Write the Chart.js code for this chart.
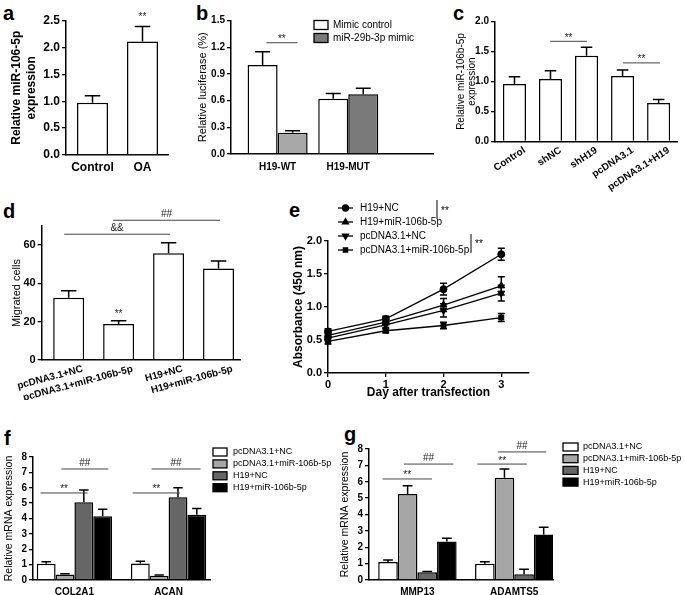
<!DOCTYPE html>
<html>
<head>
<meta charset="utf-8">
<script src="https://cdn.jsdelivr.net/npm/chart.js@4.4.1/dist/chart.umd.min.js"></script>
<style>
  body { margin: 0; background: #fff; width: 685px; height: 595px; position: relative; overflow: hidden; }
  canvas { position: absolute; }
  .lt { position: absolute; font: bold 20px 'Liberation Sans', Arial, sans-serif; line-height: 1; color: #000; }
</style>
</head>
<body>
<div class="lt" style="left:3px;top:3px">a</div>
<div class="lt" style="left:196px;top:3px">b</div>
<div class="lt" style="left:453px;top:3px">c</div>
<div class="lt" style="left:3px;top:201px">d</div>
<div class="lt" style="left:289px;top:200px">e</div>
<div class="lt" style="left:4px;top:428px">f</div>
<div class="lt" style="left:344px;top:424px">g</div>
<script>
// ---- data ----
var aCats = ['Control', 'OA'];
var aVals = [0.97, 2.11];
var aErr  = [0.13, 0.28];

var bCats      = ['H19-WT', 'H19-MUT'];
var bSeries    = ['Mimic control', 'miR-29b-3p mimic'];
var bCtrl      = [1.00, 0.62];
var bCtrlErr   = [0.15, 0.06];
var bMimic     = [0.24, 0.67];
var bMimicErr  = [0.02, 0.07];

var cCats = ['Control', 'shNC', 'shH19', 'pcDNA3.1', 'pcDNA3.1+H19'];
var cVals = [0.96, 1.04, 1.43, 1.09, 0.64];
var cErr  = [0.12, 0.14, 0.14, 0.10, 0.06];

var dCats = ['pcDNA3.1+NC', 'pcDNA3.1+miR-106b-5p', 'H19+NC', 'H19+miR-106b-5p'];
var dVals = [32.5, 18.8, 55.7, 47.8];
var dErr  = [3.7, 1.7, 5.5, 3.9];

var eDays     = [0, 1, 2, 3];
var eSeries   = ['H19+NC', 'H19+miR-106b-5p', 'pcDNA3.1+NC', 'pcDNA3.1+miR-106b-5p'];
var eH19NC    = [0.63, 0.82, 1.27, 1.80];
var eH19MiR   = [0.57, 0.77, 1.03, 1.32];
var ePcNC     = [0.53, 0.73, 0.95, 1.21];
var ePcMiR    = [0.48, 0.64, 0.72, 0.84];
var eH19NCErr  = [0.04, 0.04, 0.09, 0.09];
var eH19MiRErr = [0.04, 0.04, 0.10, 0.14];
var ePcNCErr   = [0.04, 0.04, 0.10, 0.12];
var ePcMiRErr  = [0.04, 0.03, 0.05, 0.06];

var fgSeries = ['pcDNA3.1+NC', 'pcDNA3.1+miR-106b-5p', 'H19+NC', 'H19+miR-106b-5p'];
var fCats     = ['COL2A1', 'ACAN'];
var fPcNC     = [1.05, 1.08];
var fPcMiR    = [0.35, 0.28];
var fH19NC    = [5.05, 5.38];
var fH19MiR   = [4.15, 4.25];
var fPcNCErr  = [0.13, 0.14];
var fPcMiRErr = [0.05, 0.04];
var fH19NCErr = [0.80, 0.62];
var fH19MiRErr= [0.45, 0.40];

var gCats     = ['MMP13', 'ADAMTS5'];
var gPcNC     = [1.10, 1.00];
var gPcMiR    = [5.25, 6.25];
var gH19NC    = [0.48, 0.35];
var gH19MiR   = [2.35, 2.78];
var gPcNCErr  = [0.12, 0.12];
var gPcMiRErr = [0.50, 0.53];
var gH19NCErr = [0.04, 0.30];
var gH19MiRErr= [0.20, 0.44];

// significance marks: [from, to, height, text]
var aSig = [[1, 1, 2.50, '**']];
var bSig = [[-0.16, 0.28, 1.25, '**']];
var cSig = [[0.99, 2.01, 1.67, '**'], [3.01, 4.04, 1.31, '**']];
var dSig = [[-0.09, 2.03, 65.7, '&&'], [0.89, 3.03, 73, '##'], [1, 1, 22.2, '**']];
var fSig = [[-0.36, 0.14, 5.66, '**'], [-0.14, 0.36, 7.22, '##'], [0.62, 1.12, 5.66, '**'], [0.82, 1.34, 7.22, '##']];
var gSig = [[-0.36, 0.15, 6.17, '**'], [-0.14, 0.37, 7.08, '##'], [0.62, 1.13, 7.08, '**'], [0.83, 1.33, 7.82, '##']];

// ---- helpers ----
var FONT = "'Liberation Sans', Arial, sans-serif";
Chart.defaults.font.family = FONT;
Chart.defaults.color = '#000';
Chart.defaults.animation = false;

function makeCanvas(box) {
  var c = document.createElement('canvas');
  c.width = box[2] - box[0];
  c.height = box[3] - box[1];
  c.style.left = box[0] + 'px';
  c.style.top = box[1] + 'px';
  c.style.width = c.width + 'px';
  c.style.height = c.height + 'px';
  document.body.appendChild(c);
  return c;
}

function pad(box, area) {
  return { left: 0, top: area[1] - box[1], right: box[2] - area[2], bottom: 0 };
}

function yAxis(box, area, o) {
  return {
    min: o.min, max: o.max,
    ticks: { stepSize: o.step, font: { size: o.size, weight: 'bold' }, padding: 2, color: '#000',
             callback: o.fmt || function (v) { return v; } },
    afterBuildTicks: o.keep ? function (s) { s.ticks = s.ticks.filter(function (t) { return o.keep(t.value); }); } : undefined,
    grid: { drawOnChartArea: false, drawTicks: true, tickLength: 4, color: '#000', lineWidth: 1.3 },
    border: { color: '#000', width: 1.5 },
    title: { display: true, text: o.title, color: '#000', font: o.tfont, padding: { top: o.tpad, bottom: 0 } },
    afterFit: function (s) { s.width = area[0] - box[0]; s.paddingTop = 0; s.paddingBottom = 0; }
  };
}

function xCat(box, area, cats, o) {
  return {
    type: 'linear', min: o.min, max: o.max, offset: false,
    afterBuildTicks: function (s) { s.ticks = cats.map(function (c, i) { return { value: i }; }); },
    ticks: { callback: function (v) { return cats[v]; }, font: { size: o.size, weight: 'bold' },
             minRotation: o.rot || 0, maxRotation: o.rot || 0, labelOffset: o.off || 0,
             padding: o.pad, autoSkip: false, color: '#000' },
    grid: { display: false, drawTicks: false, tickLength: 0, offset: false },
    border: { color: '#000', width: 1.5 },
    afterFit: function (s) { s.height = box[3] - area[3]; s.paddingLeft = 0; s.paddingRight = 0; }
  };
}

function pts(vals) { return vals.map(function (v, i) { return { x: i, y: v }; }); }

var errorBars = {
  id: 'errorBars',
  afterDatasetsDraw: function (chart) {
    var ctx = chart.ctx, ys = chart.scales.y, both = chart.config.type === 'line';
    chart.data.datasets.forEach(function (ds, i) {
      if (!ds.errors) return;
      var meta = chart.getDatasetMeta(i);
      meta.data.forEach(function (el, j) {
        var v = ds.data[j].y, e = ds.errors[j];
        var top = ys.getPixelForValue(v + e);
        var bot = both ? ys.getPixelForValue(v - e) : el.y;
        var hw = el.width ? el.width / 4 : 3.5;
        ctx.save();
        ctx.strokeStyle = '#000';
        ctx.lineWidth = 1.5;
        ctx.beginPath();
        ctx.moveTo(el.x, bot); ctx.lineTo(el.x, top);
        ctx.moveTo(el.x - hw, top); ctx.lineTo(el.x + hw, top);
        if (both) { ctx.moveTo(el.x - hw, bot); ctx.lineTo(el.x + hw, bot); }
        ctx.stroke();
        ctx.restore();
      });
    });
  }
};

function sigMarks(items) {
  return {
    id: 'sigMarks',
    afterDraw: function (chart) {
      var ctx = chart.ctx, xs = chart.scales.x, ys = chart.scales.y;
      items.forEach(function (s) {
        var x1 = xs.getPixelForValue(s[0]), x2 = xs.getPixelForValue(s[1]), y = ys.getPixelForValue(s[2]);
        ctx.save();
        if (s[0] !== s[1]) {
          ctx.strokeStyle = '#444';
          ctx.lineWidth = 1;
          ctx.beginPath(); ctx.moveTo(x1, y); ctx.lineTo(x2, y); ctx.stroke();
        }
        ctx.fillStyle = '#222';
        ctx.font = '10px ' + FONT;
        ctx.textAlign = 'center';
        ctx.textBaseline = 'alphabetic';
        ctx.fillText(s[3], (x1 + x2) / 2, y - (s[3] === '**' ? 0.5 : 3));
        ctx.restore();
      });
    }
  };
}

// legend with filled boxes; x,y are canvas coords of first box, rows go down
function boxLegend(names, colors, o) {
  return {
    id: 'boxLegend',
    afterDraw: function (chart) {
      var ctx = chart.ctx;
      ctx.save();
      ctx.font = o.size + 'px ' + FONT;
      ctx.textBaseline = 'middle';
      names.forEach(function (n, i) {
        var y = o.y + i * o.row;
        ctx.fillStyle = colors[i];
        ctx.fillRect(o.x, y - o.bh / 2, o.bw, o.bh);
        ctx.strokeStyle = '#000';
        ctx.lineWidth = 1.3;
        ctx.strokeRect(o.x, y - o.bh / 2, o.bw, o.bh);
        ctx.fillStyle = '#000';
        ctx.fillText(n, o.tx, y);
      });
      ctx.restore();
    }
  };
}

// ---- a ----
var aBox = [0, 0, 190, 195], aArea = [66, 20.5, 168, 155];
new Chart(makeCanvas(aBox), {
  type: 'bar',
  data: { datasets: [{ data: pts(aVals), errors: aErr, backgroundColor: '#fff', borderColor: '#000', borderWidth: 1.5,
                       categoryPercentage: 1, barPercentage: 0.62 }] },
  options: {
    responsive: false, layout: { padding: pad(aBox, aArea) },
    plugins: { legend: { display: false }, tooltip: { enabled: false } },
    scales: {
      x: xCat(aBox, aArea, aCats, { min: -0.53, max: 1.51, size: 12, pad: 5 }),
      y: yAxis(aBox, aArea, { min: 0, max: 2.5, step: 0.5, size: 12, fmt: function (v) { return v.toFixed(1); },
                              title: ['Relative miR-106-5p', 'expression'], tfont: { size: 12, weight: 'bold', lineHeight: 1.25 }, tpad: 9 })
    }
  },
  plugins: [errorBars, sigMarks(aSig)]
});

// ---- b ----
var bBox = [190, 0, 450, 195], bArea = [231, 20.5, 433, 154];
new Chart(makeCanvas(bBox), {
  type: 'bar',
  data: { datasets: [
    { label: bSeries[0], data: pts(bCtrl), errors: bCtrlErr, backgroundColor: '#fff', borderColor: '#000', borderWidth: 1.5 },
    { label: bSeries[1], data: pts(bMimic), errors: bMimicErr, backgroundColor: ['#a8a8a8', '#7a7a7a'], borderColor: '#000', borderWidth: 1.5 }
  ] },
  options: {
    responsive: false, layout: { padding: pad(bBox, bArea) },
    datasets: { bar: { categoryPercentage: 0.85, barPercentage: 1 } },
    plugins: { legend: { display: false }, tooltip: { enabled: false } },
    scales: {
      x: xCat(bBox, bArea, bCats, { min: -0.66, max: 2.2, size: 10, pad: 7 }),
      y: yAxis(bBox, bArea, { min: 0, max: 1.5, step: 0.3, size: 10, fmt: function (v) { return v.toFixed(1); },
                              title: 'Relative luciferase (%)', tfont: { size: 11, lineHeight: 1.25 }, tpad: 6 })
    }
  },
  plugins: [errorBars, sigMarks(bSig), boxLegend(bSeries, ['#fff', '#7a7a7a'], { x: 124, y: 25, row: 13, bw: 14, bh: 9, tx: 143, size: 10 })]
});

// ---- c ----
var cBox = [450, 0, 685, 205], cArea = [495, 21.5, 677, 141.5];
new Chart(makeCanvas(cBox), {
  type: 'bar',
  data: { datasets: [{ data: pts(cVals), errors: cErr, backgroundColor: '#fff', borderColor: '#000', borderWidth: 1.5,
                       categoryPercentage: 1, barPercentage: 0.64 }] },
  options: {
    responsive: false, layout: { padding: pad(cBox, cArea) },
    plugins: { legend: { display: false }, tooltip: { enabled: false } },
    scales: {
      x: xCat(cBox, cArea, cCats, { min: -0.54, max: 4.51, size: 10, pad: 3, rot: 33, off: 10 }),
      y: yAxis(cBox, cArea, { min: 0, max: 2, step: 0.5, size: 10, fmt: function (v) { return v.toFixed(1); },
                              title: ['Relative miR-106b-5p', 'expression'], tfont: { size: 10, lineHeight: 1.15 }, tpad: 5 })
    }
  },
  plugins: [errorBars, sigMarks(cSig)]
});

// ---- d ----
var dBox = [0, 200, 255, 400], dArea = [41.7, 226, 240, 360];
new Chart(makeCanvas(dBox), {
  type: 'bar',
  data: { datasets: [{ data: pts(dVals), errors: dErr, backgroundColor: '#fff', borderColor: '#000', borderWidth: 1.5,
                       categoryPercentage: 1, barPercentage: 0.62 }] },
  options: {
    responsive: false, layout: { padding: pad(dBox, dArea) },
    plugins: { legend: { display: false }, tooltip: { enabled: false } },
    scales: {
      x: xCat(dBox, dArea, dCats, { min: -0.54, max: 3.43, size: 10, pad: 3, rot: 15, off: 14 }),
      y: yAxis(dBox, dArea, { min: 0, max: 70, step: 20, size: 11, keep: function (v) { return v % 20 === 0; },
                              title: 'Migrated cells', tfont: { size: 11, lineHeight: 1.25 }, tpad: 10 })
    }
  },
  plugins: [errorBars, sigMarks(dSig)]
});

// ---- e ----
var eBox = [280, 200, 545, 400], eArea = [328, 241, 529, 373];
var eVals = [eH19NC, eH19MiR, ePcNC, ePcMiR];
var eErrs = [eH19NCErr, eH19MiRErr, ePcNCErr, ePcMiRErr];
var eStyles = ['circle', 'triangle', 'triangle', 'rect'];
var eRots = [0, 0, 180, 0];
var eRadius = [3.5, 4, 4, 3.5];

var lineLegend = {
  id: 'lineLegend',
  afterDraw: function (chart) {
    var ctx = chart.ctx, ox = eBox[0], oy = eBox[1];
    var rows = [208, 222, 236, 250];
    ctx.save();
    ctx.font = '10px ' + FONT;
    ctx.textBaseline = 'middle';
    eSeries.forEach(function (n, i) {
      var y = rows[i] - oy;
      ctx.strokeStyle = '#000'; ctx.fillStyle = '#000'; ctx.lineWidth = 1.3;
      ctx.beginPath(); ctx.moveTo(338 - ox, y); ctx.lineTo(353 - ox, y); ctx.stroke();
      Chart.helpers.drawPoint(ctx, { pointStyle: eStyles[i], rotation: eRots[i], radius: eRadius[i] - 0.5, borderWidth: 1 }, 345.5 - ox, y);
      ctx.fillStyle = '#000';
      ctx.fillText(n, 360 - ox, y);
    });
    // brackets
    ctx.strokeStyle = '#000'; ctx.lineWidth = 1;
    ctx.beginPath();
    ctx.moveTo(437 - ox, 200 - oy); ctx.lineTo(437 - ox, 219 - oy);
    ctx.moveTo(471 - ox, 234 - oy); ctx.lineTo(471 - ox, 253 - oy);
    ctx.stroke();
    ctx.font = '10px ' + FONT;
    ctx.fillText('**', 441 - ox, 211 - oy);
    ctx.fillText('**', 475 - ox, 244 - oy);
    ctx.restore();
  }
};

new Chart(makeCanvas(eBox), {
  type: 'line',
  data: { datasets: eSeries.map(function (n, k) {
    return { label: n, data: eDays.map(function (d, i) { return { x: d, y: eVals[k][i] }; }), errors: eErrs[k],
             borderColor: '#000', backgroundColor: '#000', borderWidth: 1.3, pointStyle: eStyles[k], pointRotation: eRots[k],
             pointRadius: eRadius[k], pointBorderWidth: 1, tension: 0, clip: false };
  }) },
  options: {
    responsive: false, layout: { padding: pad(eBox, eArea) },
    plugins: { legend: { display: false }, tooltip: { enabled: false } },
    scales: {
      x: {
        type: 'linear', min: 0, max: 3.48,
        afterBuildTicks: function (s) { s.ticks = eDays.map(function (d) { return { value: d }; }); },
        ticks: { font: { size: 11, weight: 'bold' }, padding: 1, color: '#000' },
        grid: { drawOnChartArea: false, drawTicks: true, tickLength: 4, color: '#000', lineWidth: 1.3 },
        border: { color: '#000', width: 1.5 },
        title: { display: true, text: 'Day after transfection', color: '#000', font: { size: 12, weight: 'bold', lineHeight: 1.25 }, padding: { top: 0, bottom: 0 } },
        afterFit: function (s) { s.height = eBox[3] - eArea[3]; s.paddingLeft = 0; s.paddingRight = 0; }
      },
      y: yAxis(eBox, eArea, { min: 0, max: 2, step: 0.5, size: 11, fmt: function (v) { return v.toFixed(1); },
                              title: 'Absorbance (450 nm)', tfont: { size: 12, weight: 'bold', lineHeight: 1.25 }, tpad: 11 })
    }
  },
  plugins: [errorBars, lineLegend]
});

// ---- f, g ----
var fgColors = ['#ffffff', '#a6a6a6', '#666666', '#000000'];
function fgChart(box, area, cats, vals, errs, sig, xr, catPct, leg) {
  new Chart(makeCanvas(box), {
    type: 'bar',
    data: { datasets: fgSeries.map(function (n, k) {
      return { label: n, data: pts(vals[k]), errors: errs[k], backgroundColor: fgColors[k], borderColor: '#000', borderWidth: 1.5 };
    }) },
    options: {
      responsive: false, layout: { padding: pad(box, area) },
      datasets: { bar: { categoryPercentage: catPct, barPercentage: 1 } },
      plugins: { legend: { display: false }, tooltip: { enabled: false } },
      scales: {
        x: xCat(box, area, cats, { min: xr[0], max: xr[1], size: 10, pad: 6 }),
        y: yAxis(box, area, { min: 0, max: 8, step: 1, size: 10,
                              title: 'Relative mRNA expression', tfont: { size: 10.5, lineHeight: 1.2 }, tpad: leg.tpad })
      }
    },
    plugins: [errorBars, sigMarks(sig), boxLegend(fgSeries, fgColors, leg)]
  });
}

var fBox = [0, 440, 340, 595], fArea = [33, 457, 210, 580];
fgChart(fBox, fArea, fCats, [fPcNC, fPcMiR, fH19NC, fH19MiR], [fPcNCErr, fPcMiRErr, fH19NCErr, fH19MiRErr], fSig,
        [-0.44, 1.44], 0.8, { x: 213, y: 12, row: 11.9, bw: 14, bh: 8, tx: 233, size: 9, tpad: 3 });

var gBox = [335, 440, 685, 595], gArea = [369, 449, 553, 580];
fgChart(gBox, gArea, gCats, [gPcNC, gPcMiR, gH19NC, gH19MiR], [gPcNCErr, gPcMiRErr, gH19NCErr, gH19MiRErr], gSig,
        [-0.5, 1.4], 0.81, { x: 228, y: 7, row: 11.7, bw: 15, bh: 8, tx: 248, size: 9, tpad: 4 });
</script>
</body>
</html>
